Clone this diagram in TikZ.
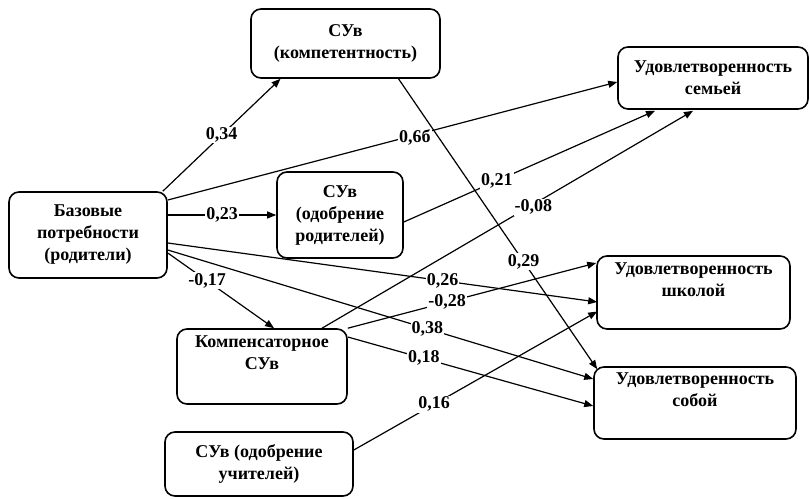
\documentclass[tikz,border=0pt]{standalone}
\usepackage{fontspec}
\setmainfont{Liberation Serif}
\usetikzlibrary{arrows.meta}
\begin{document}
\begin{tikzpicture}[x=1pt,y=-1pt,
  box/.style={draw, line width=1.6pt, rounded corners=10pt, align=center,
    font=\bfseries\fontsize{18}{22}\selectfont, inner sep=0pt},
  arr/.style={line width=1.2pt, -{Triangle[length=9pt,width=7pt]}},
  lab/.style={fill=white, inner sep=1pt, font=\bfseries\fontsize{18}{20}\selectfont}]
\useasboundingbox (0,0) rectangle (810,498);
\node[box, minimum width=189pt, minimum height=69pt] (komp) at (345.5,43.5) {СУв\\(компетентность)};
\node[box, minimum width=190pt, minimum height=62pt] (sem) at (713,78) {Удовлетворенность\\семьей};
\node[box, minimum width=158pt, minimum height=86pt] (baz) at (88,235) {Базовые\\потребности\\(родители)};
\node[box, minimum width=126pt, minimum height=86pt] (rod) at (340,215) {СУв\\(одобрение\\родителей)};
\node[box, minimum width=170pt, minimum height=75pt] (komps) at (262,366.5) {Компенсаторное\\СУв\\[6pt]};
\node[box, minimum width=188pt, minimum height=64pt] (uch) at (259,464) {СУв (одобрение\\учителей)};
\node[box, minimum width=193pt, minimum height=73pt] (shk) at (693.5,292.5) {Удовлетворенность\\школой\\[4pt]};
\node[box, minimum width=202pt, minimum height=72pt] (sob) at (695,403) {Удовлетворенность\\собой\\[4pt]};
% edges
\draw[arr] ([xshift=-5pt]baz.north east) -- ([xshift=-65pt]komp.south) node[lab, pos=0.5] {0,34};
\draw[arr] ([yshift=35pt]baz.east) -- ([yshift=-4pt]sem.west) node[lab, pos=0.55, yshift=-2pt] {0,6б};
\draw[arr] ([yshift=20pt]baz.east) -- (rod.west) node[lab, pos=0.5] {0,23};
\draw[arr] ([yshift=-7pt]rod.east) -- ([xshift=-58pt,yshift=-1pt]sem.south) node[lab, pos=0.37] {0,21};
\draw[arr] ([xshift=60pt]komps.north) -- ([xshift=-20pt,yshift=-1pt]sem.south) node[lab, pos=0.57, yshift=-3pt] {-0,08};
\draw[arr] ([yshift=-8pt]baz.east) -- ([xshift=1pt,yshift=-9.5pt]shk.west) node[lab, pos=0.64] {0,26};
\draw[arr] (komps.north east) -- ([yshift=29.5pt]shk.west) node[lab, pos=0.4] {-0,28};
\draw[arr] ([yshift=-15pt]baz.east) -- ([yshift=24pt]sob.west) node[lab, pos=0.61] {0,38};
\draw[arr] ([yshift=-18pt]baz.east) -- ([xshift=12pt]komps.north) node[lab, pos=0.37] {-0,17};
\draw[arr] ([yshift=29.5pt]komps.east) -- ([yshift=-3pt]sob.west) node[lab, pos=0.31] {0,18};
\draw[arr] ([yshift=14pt]uch.east) -- ([xshift=1pt,yshift=-19pt]shk.west) node[lab, pos=0.33] {0,16};
\draw[arr] ([xshift=53pt]komp.south) -- ([xshift=4pt,yshift=-3pt]sob.north west) node[lab, pos=0.63] {0,29};
\end{tikzpicture}
\end{document}
